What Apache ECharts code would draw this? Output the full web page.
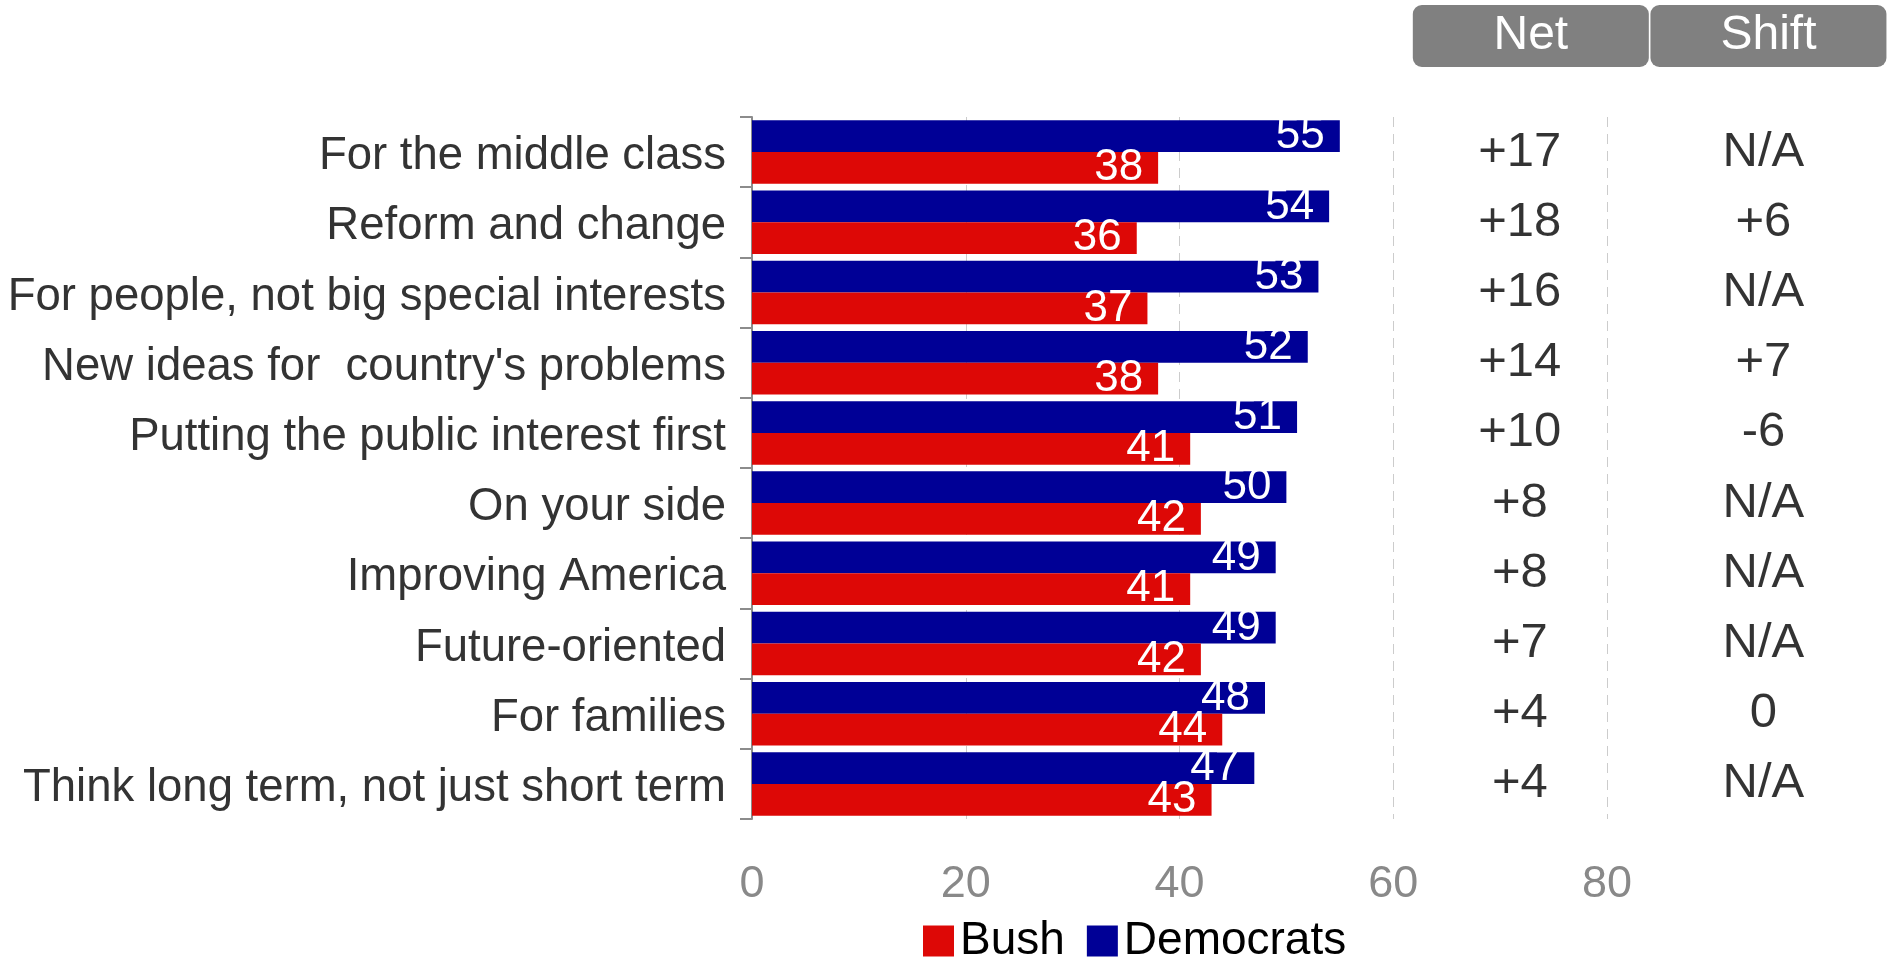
<!DOCTYPE html>
<html>
<head>
<meta charset="utf-8">
<script src="https://cdn.jsdelivr.net/npm/echarts@6/dist/echarts.min.js"></script>
<style>
html,body{margin:0;padding:0;background:#fff;}
#chart{width:1889px;height:958px;}
</style>
</head>
<body>
<div id="chart"></div>
<script>
const categories = ['For the middle class','Reform and change','For people, not big special interests',"New ideas for  country's problems",'Putting the public interest first','On your side','Improving America','Future-oriented','For families','Think long term, not just short term'];
const democrats = [55,54,53,52,51,50,49,49,48,47];
const bush = [38,36,37,38,41,42,41,42,44,43];
const netValues = ['+17','+18','+16','+14','+10','+8','+8','+7','+4','+4'];
const shiftValues = ['N/A','+6','N/A','+7','-6','N/A','N/A','N/A','0','N/A'];
const tableHeaders = ['Net','Shift'];
const xMin = 0, xMax = 80, xStep = 20;

const FONT = "'Liberation Sans', Arial, sans-serif";

const netData = categories.map((c, i) => [tableHeaders[0], c, netValues[i]]);
const shiftData = categories.map((c, i) => [tableHeaders[1], c, shiftValues[i]]);

const chart = echarts.init(document.getElementById('chart'), null, {renderer:'canvas'});
chart.setOption({
  animation: false,
  backgroundColor: '#fff',
  textStyle: {fontFamily: FONT},
  legend: {
    data: ['Bush','Democrats'],
    left: 918, top: 913,
    itemWidth: 31, itemHeight: 31, itemGap: 22,
    icon: 'rect',
    textStyle: {fontSize: 46, color: '#000', fontFamily: FONT, padding:[0,0,0,1]}
  },
  grid: [
    {left: 752, right: 282, top: 117, bottom: 139, containLabel: false},
    {left: 1412, right: 0, top: 117, bottom: 139, containLabel: false}
  ],
  xAxis: [
    {
      type: 'value', gridIndex: 0, min: xMin, max: xMax, interval: xStep,
      axisLine: {show: false}, axisTick: {show: false},
      axisLabel: {fontSize: 45, color: '#898989', margin: 43, fontFamily: FONT},
      splitLine: {show: true, lineStyle: {color: '#cccccc', type: [10,7], width: 1}}
    },
    {
      type: 'category', gridIndex: 1, data: tableHeaders, position: 'top',
      axisLine: {show: false}, axisTick: {show: false}, splitLine: {show: false},
      axisLabel: {
        show: true, color: '#fff', fontSize: 48, fontFamily: FONT,
        backgroundColor: '#808080', borderRadius: 9,
        width: 236, height: 62, lineHeight: 62, align: 'center', margin: 50
      }
    }
  ],
  yAxis: [
    {
      type: 'category', gridIndex: 0, data: categories, inverse: true,
      axisLine: {show: true, lineStyle: {color: '#8c8c8c', width: 2}},
      axisTick: {show: true, length: 12, lineStyle: {color: '#8c8c8c', width: 2}},
      axisLabel: {
        margin: 26,
        formatter: v => '{c|' + v + '}',
        rich: {c: {fontSize: 45.5, color: '#333', fontFamily: FONT, padding: [9,0,0,0]}}
      },
      splitLine: {show: false}
    },
    {
      type: 'category', gridIndex: 1, data: categories, inverse: true, show: false
    }
  ],
  series: [
    {
      name: 'Democrats', type: 'bar', xAxisIndex: 0, yAxisIndex: 0,
      data: democrats, barGap: '0%', barCategoryGap: '9.5%',
      itemStyle: {color: '#000096'},
      label: {show: true, position: 'insideRight', distance: 15, color: '#fff', fontSize: 44, fontFamily: FONT}
    },
    {
      name: 'Bush', type: 'bar', xAxisIndex: 0, yAxisIndex: 0,
      data: bush, barGap: '0%', barCategoryGap: '9.5%',
      itemStyle: {color: '#DD0806'},
      label: {show: true, position: 'insideRight', distance: 15, color: '#fff', fontSize: 44, fontFamily: FONT}
    },
    {
      name: 'Net', type: 'scatter', xAxisIndex: 1, yAxisIndex: 1,
      symbolSize: 0, data: netData, silent: true,
      label: {
        show: true, position: 'inside', offset: [-11, 0], color: '#000', fontSize: 49, fontFamily: FONT,
        formatter: p => p.value[2]
      }
    },
    {
      name: 'Shift', type: 'scatter', xAxisIndex: 1, yAxisIndex: 1,
      symbolSize: 0, data: shiftData, silent: true,
      label: {
        show: true, position: 'inside', offset: [-5, 0], color: '#000', fontSize: 49, fontFamily: FONT,
        formatter: p => p.value[2]
      }
    }
  ]
});
</script>
</body>
</html>
